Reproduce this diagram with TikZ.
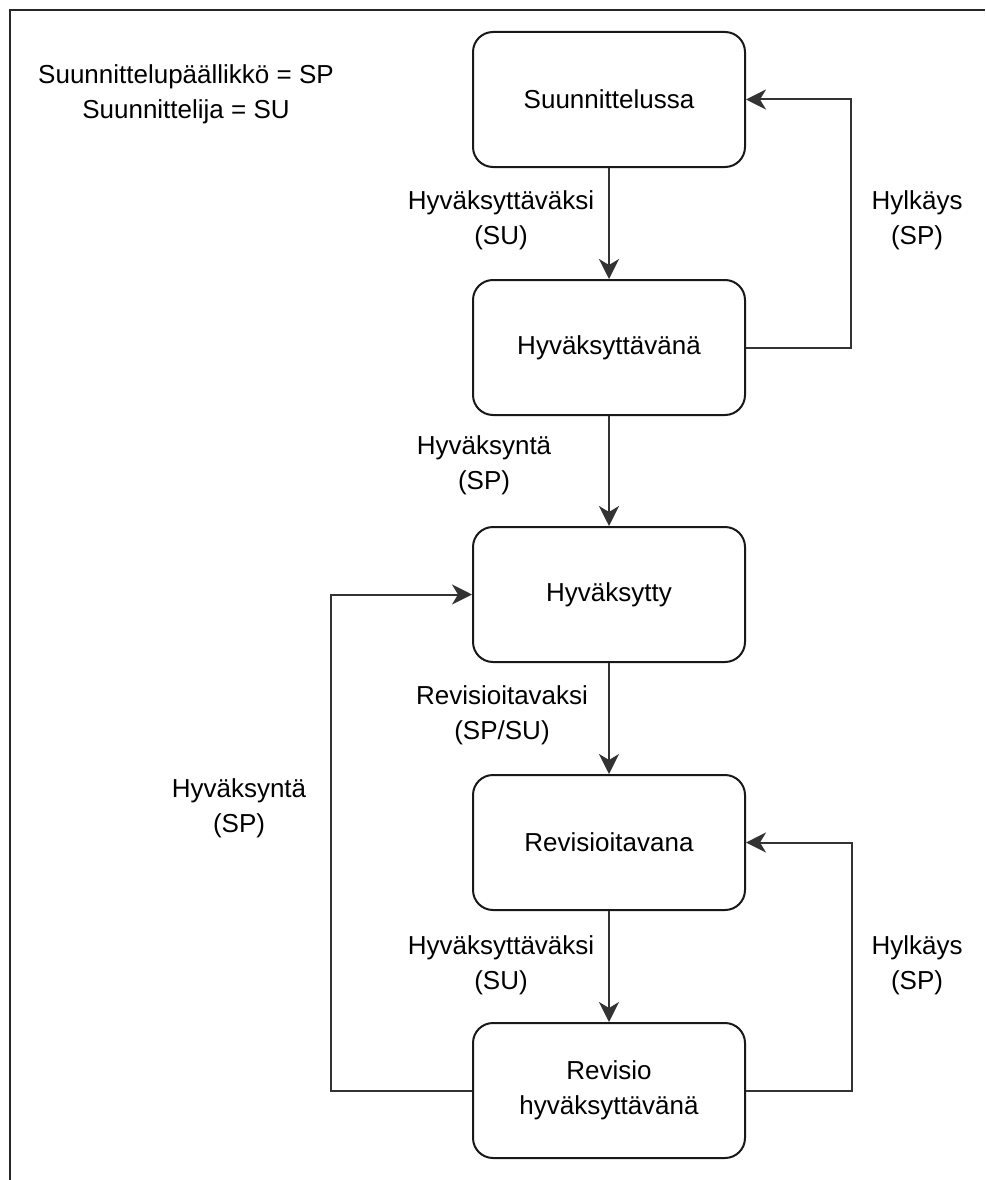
\documentclass[tikz,border=0pt]{standalone}
\usepackage{fontspec}
\setmainfont{Liberation Sans}
\usetikzlibrary{arrows.meta}

\tikzset{
  state/.style={draw=black!90, line width=2pt, rounded corners=20pt,
    minimum width=272pt, minimum height=135pt, inner sep=0pt,
    align=center, font=\fontsize{26}{35}\selectfont},
  lbl/.style={align=center, inner sep=0pt, font=\fontsize{26}{35}\selectfont},
  link/.style={draw=black!80, line width=2pt,
    -{Stealth[length=20pt, width=20pt, inset=6pt]}},
}

\begin{document}
\begin{tikzpicture}[x=1pt, y=-1pt]
  \useasboundingbox (0,0) rectangle (985,1180);
  \fill[white] (0,0) rectangle (985,1180);

  % frame edges
  \draw[line width=2.2pt, black!85] (10,1180) -- (10,10) -- (985,10);

  % legend
  \node[lbl] (legend) at (186,94) {Suunnittelupäällikkö = SP\\Suunnittelija = SU};

  % states
  \node[state] (s1) at (609,99.5)  {Suunnittelussa};
  \node[state] (s2) at (609,347.5) {Hyväksyttävänä};
  \node[state] (s3) at (609,594.5) {Hyväksytty};
  \node[state] (s4) at (609,842.5) {Revisioitavana};
  \node[state] (s5) at (609,1090.5) {Revisio\\hyväksyttävänä};

  % transitions
  \draw[link] (s1.south) -- (s2.north);
  \draw[link] (s2.south) -- (s3.north);
  \draw[link] (s3.south) -- (s4.north);
  \draw[link] (s4.south) -- (s5.north);
  \draw[link] (s2.east) -- ++(105,0) |- (s1.east);
  \draw[link] (s5.east) -- ++(106,0) |- (s4.east);
  \draw[link] (s5.west) -- ++(-141,0) |- (s3.west);

  % transition labels
  \node[lbl] (t12) at (501,220) {Hyväksyttäväksi\\(SU)};
  \node[lbl] (t21) at (917,220) {Hylkäys\\(SP)};
  \node[lbl] (t23) at (484,465) {Hyväksyntä\\(SP)};
  \node[lbl] (t34) at (502,715) {Revisioitavaksi\\(SP/SU)};
  \node[lbl] (t53) at (239,808) {Hyväksyntä\\(SP)};
  \node[lbl] (t45) at (501,965) {Hyväksyttäväksi\\(SU)};
  \node[lbl] (t54) at (917,965) {Hylkäys\\(SP)};
\end{tikzpicture}
\end{document}
